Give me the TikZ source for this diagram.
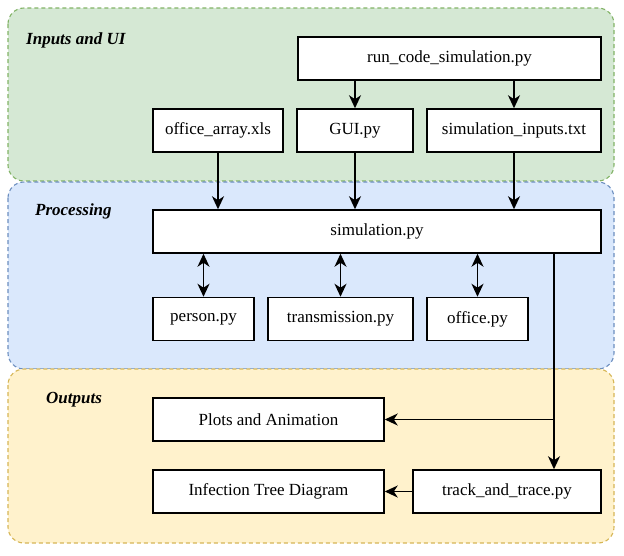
\documentclass[tikz,border=0pt]{standalone}
\usepackage{fontspec}
\setmainfont{Liberation Serif}
\usetikzlibrary{arrows.meta}

\definecolor{greenfill}{HTML}{D5E8D4}
\definecolor{greenline}{HTML}{82B366}
\definecolor{bluefill}{HTML}{DAE8FC}
\definecolor{blueline}{HTML}{6C8EBF}
\definecolor{yellowfill}{HTML}{FFF2CC}
\definecolor{yellowline}{HTML}{D6B656}

\tikzset{
  box/.style={draw, fill=white, line width=1.5pt, minimum height=43pt, inner sep=0pt, font=\fontsize{17}{20}\selectfont},
  panel/.style={dash pattern=on 4pt off 3pt, line width=1.1pt, rounded corners=16pt},
  title/.style={anchor=west, inner sep=0pt, font=\fontsize{17}{20}\selectfont\bfseries\itshape},
  arr/.style={line width=1.7pt, -{Stealth[length=13pt,width=12pt,inset=4pt]}},
  darr/.style={line width=1.7pt, {Stealth[length=13pt,width=12pt,inset=4pt]}-{Stealth[length=13pt,width=12pt,inset=4pt]}},
}

\begin{document}
\begin{tikzpicture}[x=1pt, y=-1pt]
  \useasboundingbox (0,0) rectangle (624,555);
  % panels
  \draw[panel, draw=greenline, fill=greenfill] (8,8) rectangle (614,181);
  \draw[panel, draw=blueline, fill=bluefill] (8,182) rectangle (614,369);
  \draw[panel, draw=yellowline, fill=yellowfill] (8,369) rectangle (614,543);
  \node[title] (tinputs) at (26,40) {Inputs and UI};
  \node[title] (tproc) at (35,211) {Processing};
  \node[title] (tout) at (46,400) {Outputs};

  % inputs
  \node[box, minimum width=303pt] (runcode) at (449.5,58.5) {run\_code\_simulation.py};
  \node[box, minimum width=130pt] (officearray) at (218,130.5) {office\_array.xls};
  \node[box, minimum width=116pt] (gui) at (355,130.5) {GUI.py};
  \node[box, minimum width=174pt] (siminputs) at (514,130.5) {simulation\_inputs.txt};

  % processing
  \node[box, minimum width=448pt] (simulation) at (377,231.5) {simulation.py};
  \node[box, minimum width=101pt] (person) at (203.5,319) {person.py};
  \node[box, minimum width=145pt] (transmission) at (340.5,319) {transmission.py};
  \node[box, minimum width=101pt] (officepy) at (477.5,319) {office.py};

  % outputs
  \node[box, minimum width=231pt] (plots) at (268.5,419.5) {Plots and Animation};
  \node[box, minimum width=231pt] (infection) at (268.5,491.5) {Infection Tree Diagram};
  \node[box, minimum width=188pt] (track) at (507,491.5) {track\_and\_trace.py};

  % connectors
  \foreach \b in {gui, siminputs}
    \draw[arr] (runcode.south -| \b.north) -- (\b.north);
  \foreach \a in {officearray, gui, siminputs}
    \draw[arr] (\a.south) -- (\a.south |- simulation.north);
  \foreach \b in {person, transmission, officepy}
    \draw[darr] (simulation.south -| \b.north) -- (\b.north);

  \coordinate (split) at (554,0);
  \draw[arr] (simulation.south -| split) |- (plots.east);
  \draw[arr] (simulation.south -| split) -- (split |- track.north);
  \draw[arr] (track.west) -- (infection.east);
\end{tikzpicture}
\end{document}
